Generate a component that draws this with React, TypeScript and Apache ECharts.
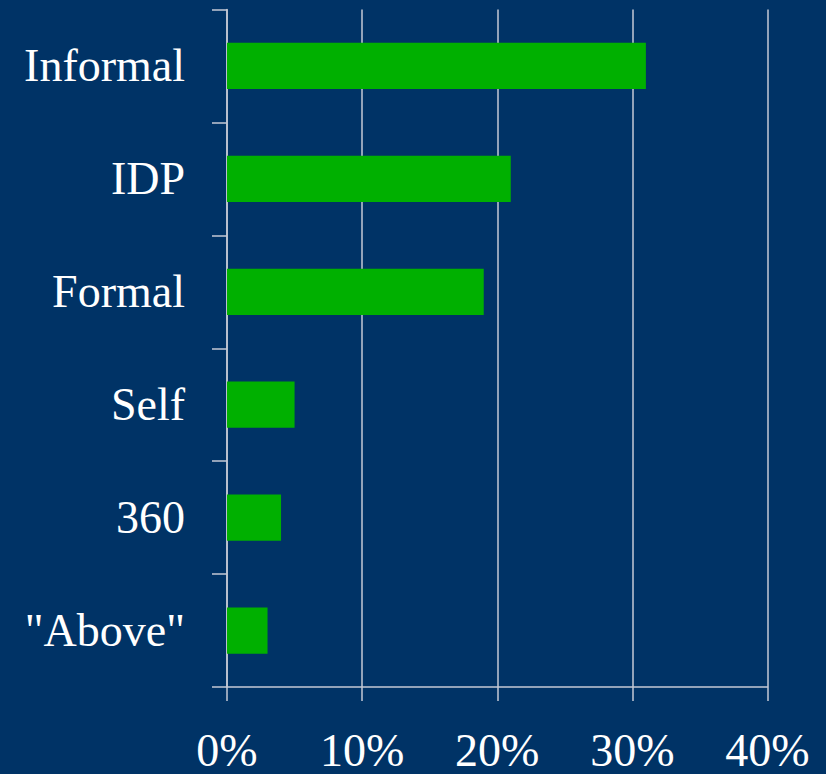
import React, { useEffect, useRef } from "react";
import * as echarts from "echarts";

const categories = ["Informal", "IDP", "Formal", "Self", "360", "\"Above\""];
const values = [31, 21, 19, 5, 4, 3];
const xMin = 0;
const xMax = 40;
const xInterval = 10;

export default function App() {
  const ref = useRef<HTMLDivElement>(null);
  useEffect(() => {
    if (!ref.current) return;
    const chart = echarts.init(ref.current, null, { renderer: "svg" });
    const lineColor = "#c5cad6";
    const font = "'Liberation Serif', 'Times New Roman', serif";
    chart.setOption({
      animation: false,
      backgroundColor: "#003366",
      grid: { left: 227, right: 58.5, top: 9.5, bottom: 87, containLabel: false },
      xAxis: {
        type: "value",
        min: xMin,
        max: xMax,
        interval: xInterval,
        axisLine: { show: true, lineStyle: { color: lineColor, width: 1.5 } },
        axisTick: { show: true, length: 14, lineStyle: { color: lineColor, width: 1.5 } },
        splitLine: { show: true, lineStyle: { color: lineColor, width: 1.5 } },
        axisLabel: {
          color: "#ffffff",
          fontFamily: font,
          fontSize: 46,
          margin: 40,
          formatter: "{value}%",
        },
      },
      yAxis: {
        type: "category",
        data: categories,
        inverse: true,
        axisLine: { show: true, lineStyle: { color: lineColor, width: 1.5 } },
        axisTick: { show: true, length: 15, lineStyle: { color: lineColor, width: 1.5 } },
        axisLabel: {
          color: "#ffffff",
          fontFamily: font,
          fontSize: 46,
          margin: 42,
        },
        splitLine: { show: false },
      },
      series: [
        {
          type: "bar",
          data: values,
          barWidth: "41%",
          itemStyle: { color: "#00b000" },
        },
      ],
    });
    return () => chart.dispose();
  }, []);
  return (
    <div
      ref={ref}
      style={{ position: "fixed", left: 0, top: 0, width: 826, height: 774 }}
    />
  );
}
